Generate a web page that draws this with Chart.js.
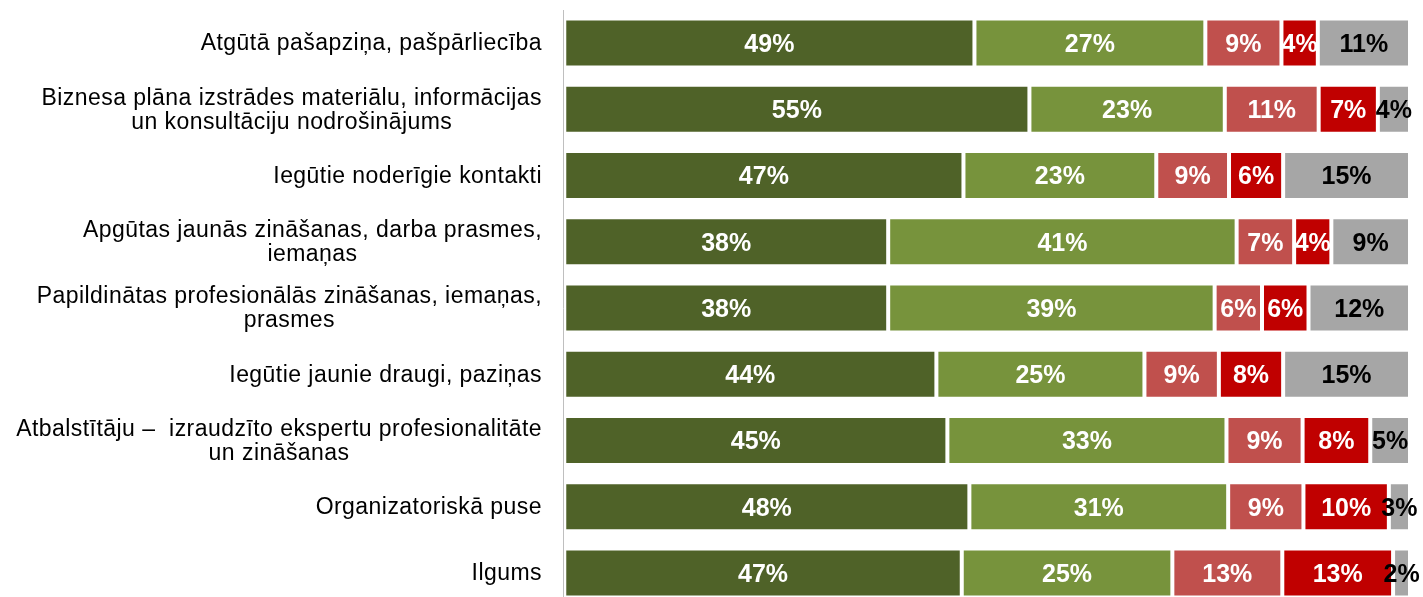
<!DOCTYPE html>
<html>
<head>
<meta charset="utf-8">
<script src="https://cdn.jsdelivr.net/npm/chart.js@4"></script>
<style>
  html, body { margin: 0; padding: 0; overflow: hidden; background: #fff; }
  #wrap { width: 1423px; height: 606px; }
</style>
</head>
<body>
<div id="wrap"><canvas id="StatsChart"></canvas></div>
<script>
// categories (multi-line labels as arrays)
var categories = [
    ['Atgūtā pašapziņa, pašpārliecība'],
    ['Biznesa plāna izstrādes materiālu, informācijas', 'un konsultāciju nodrošinājums'],
    ['Iegūtie noderīgie kontakti'],
    ['Apgūtas jaunās zināšanas, darba prasmes,', 'iemaņas'],
    ['Papildinātas profesionālās zināšanas, iemaņas,', 'prasmes'],
    ['Iegūtie jaunie draugi, paziņas'],
    ['Atbalstītāju –  izraudzīto ekspertu profesionalitāte', 'un zināšanas'],
    ['Organizatoriskā puse'],
    ['Ilgums']
];

// shares in %
var series1 = [48.5, 55.0, 47.2, 38.3, 38.3, 44.0, 45.3, 47.9, 47.0];
var series2 = [27.3, 23.1, 22.8, 41.2, 38.6, 24.6, 33.0, 30.6, 24.9];
var series3 = [9.0, 11.1, 8.6, 6.8, 5.6, 8.8, 9.0, 8.9, 13.0];
var series4 = [4.3, 7.0, 6.4, 4.4, 5.5, 7.6, 8.0, 10.1, 13.1];
var series5 = [10.9, 3.8, 15.0, 9.3, 12.0, 15.0, 4.7, 2.5, 2.0];

var colors = ['#4F6228', '#77933C', '#C0504D', '#C00000', '#A6A6A6'];
var labelColors = ['#fff', '#fff', '#fff', '#fff', '#000'];

// draws the category labels: block right aligned, lines centred in the block
var categoryLabels = {
    id: 'categoryLabels',
    afterDraw: function(chart) {
        var ctx = chart.ctx;
        var yScale = chart.scales.y;
        ctx.save();
        ctx.font = '23px "Liberation Sans", Arial, sans-serif';
        ctx.letterSpacing = '0.45px';
        ctx.fillStyle = '#000';
        ctx.textAlign = 'center';
        ctx.textBaseline = 'middle';
        var lineHeight = 24;
        var right = 542;
        categories.forEach(function(lines, i) {
            var y = yScale.getPixelForValue(i);
            var maxW = 0;
            lines.forEach(function(l) { maxW = Math.max(maxW, ctx.measureText(l).width); });
            var cx = right - maxW / 2;
            lines.forEach(function(l, j) {
                ctx.fillText(l, cx, y + (j - (lines.length - 1) / 2) * lineHeight + 1);
            });
        });
        ctx.restore();
    }
};

// value labels in the middle of each segment
var valueLabels = {
    id: 'valueLabels',
    afterDatasetsDraw: function(chart) {
        var ctx = chart.ctx;
        ctx.save();
        ctx.font = 'bold 25px "Liberation Sans", Arial, sans-serif';
        ctx.textAlign = 'center';
        ctx.textBaseline = 'middle';
        chart.data.datasets.forEach(function(ds, di) {
            var meta = chart.getDatasetMeta(di);
            ctx.fillStyle = labelColors[di];
            meta.data.forEach(function(bar, i) {
                var p = bar.getProps(['x', 'y', 'base'], true);
                ctx.fillText(Math.round(ds.data[i]) + '%', (p.x + p.base) / 2, p.y + 2);
            });
        });
        ctx.restore();
    }
};

var ctx = document.getElementById('StatsChart').getContext('2d');
var StatsChart = new Chart(ctx, {
    type: 'bar',
    plugins: [valueLabels, categoryLabels],
    data: {
        labels: categories,
        datasets: [series1, series2, series3, series4, series5].map(function(d, i) {
            return {
                data: d,
                backgroundColor: colors[i],
                borderColor: '#fff',
                borderWidth: 2,
                borderSkipped: false,
                barPercentage: 0.74,
                categoryPercentage: 1
            };
        })
    },
    options: {
        indexAxis: 'y',
        responsive: true,
        maintainAspectRatio: false,
        animation: false,
        layout: { padding: { left: 555, right: 13, top: 10, bottom: 0 } },
        plugins: {
            legend: { display: false },
            tooltip: { enabled: false }
        },
        scales: {
            x: { stacked: true, min: -0.15, max: 100, display: false },
            y: {
                stacked: true,
                ticks: { display: false },
                grid: { display: false },
                border: { display: true, color: '#BFBFBF', width: 1 }
            }
        }
    }
});
</script>
</body>
</html>
